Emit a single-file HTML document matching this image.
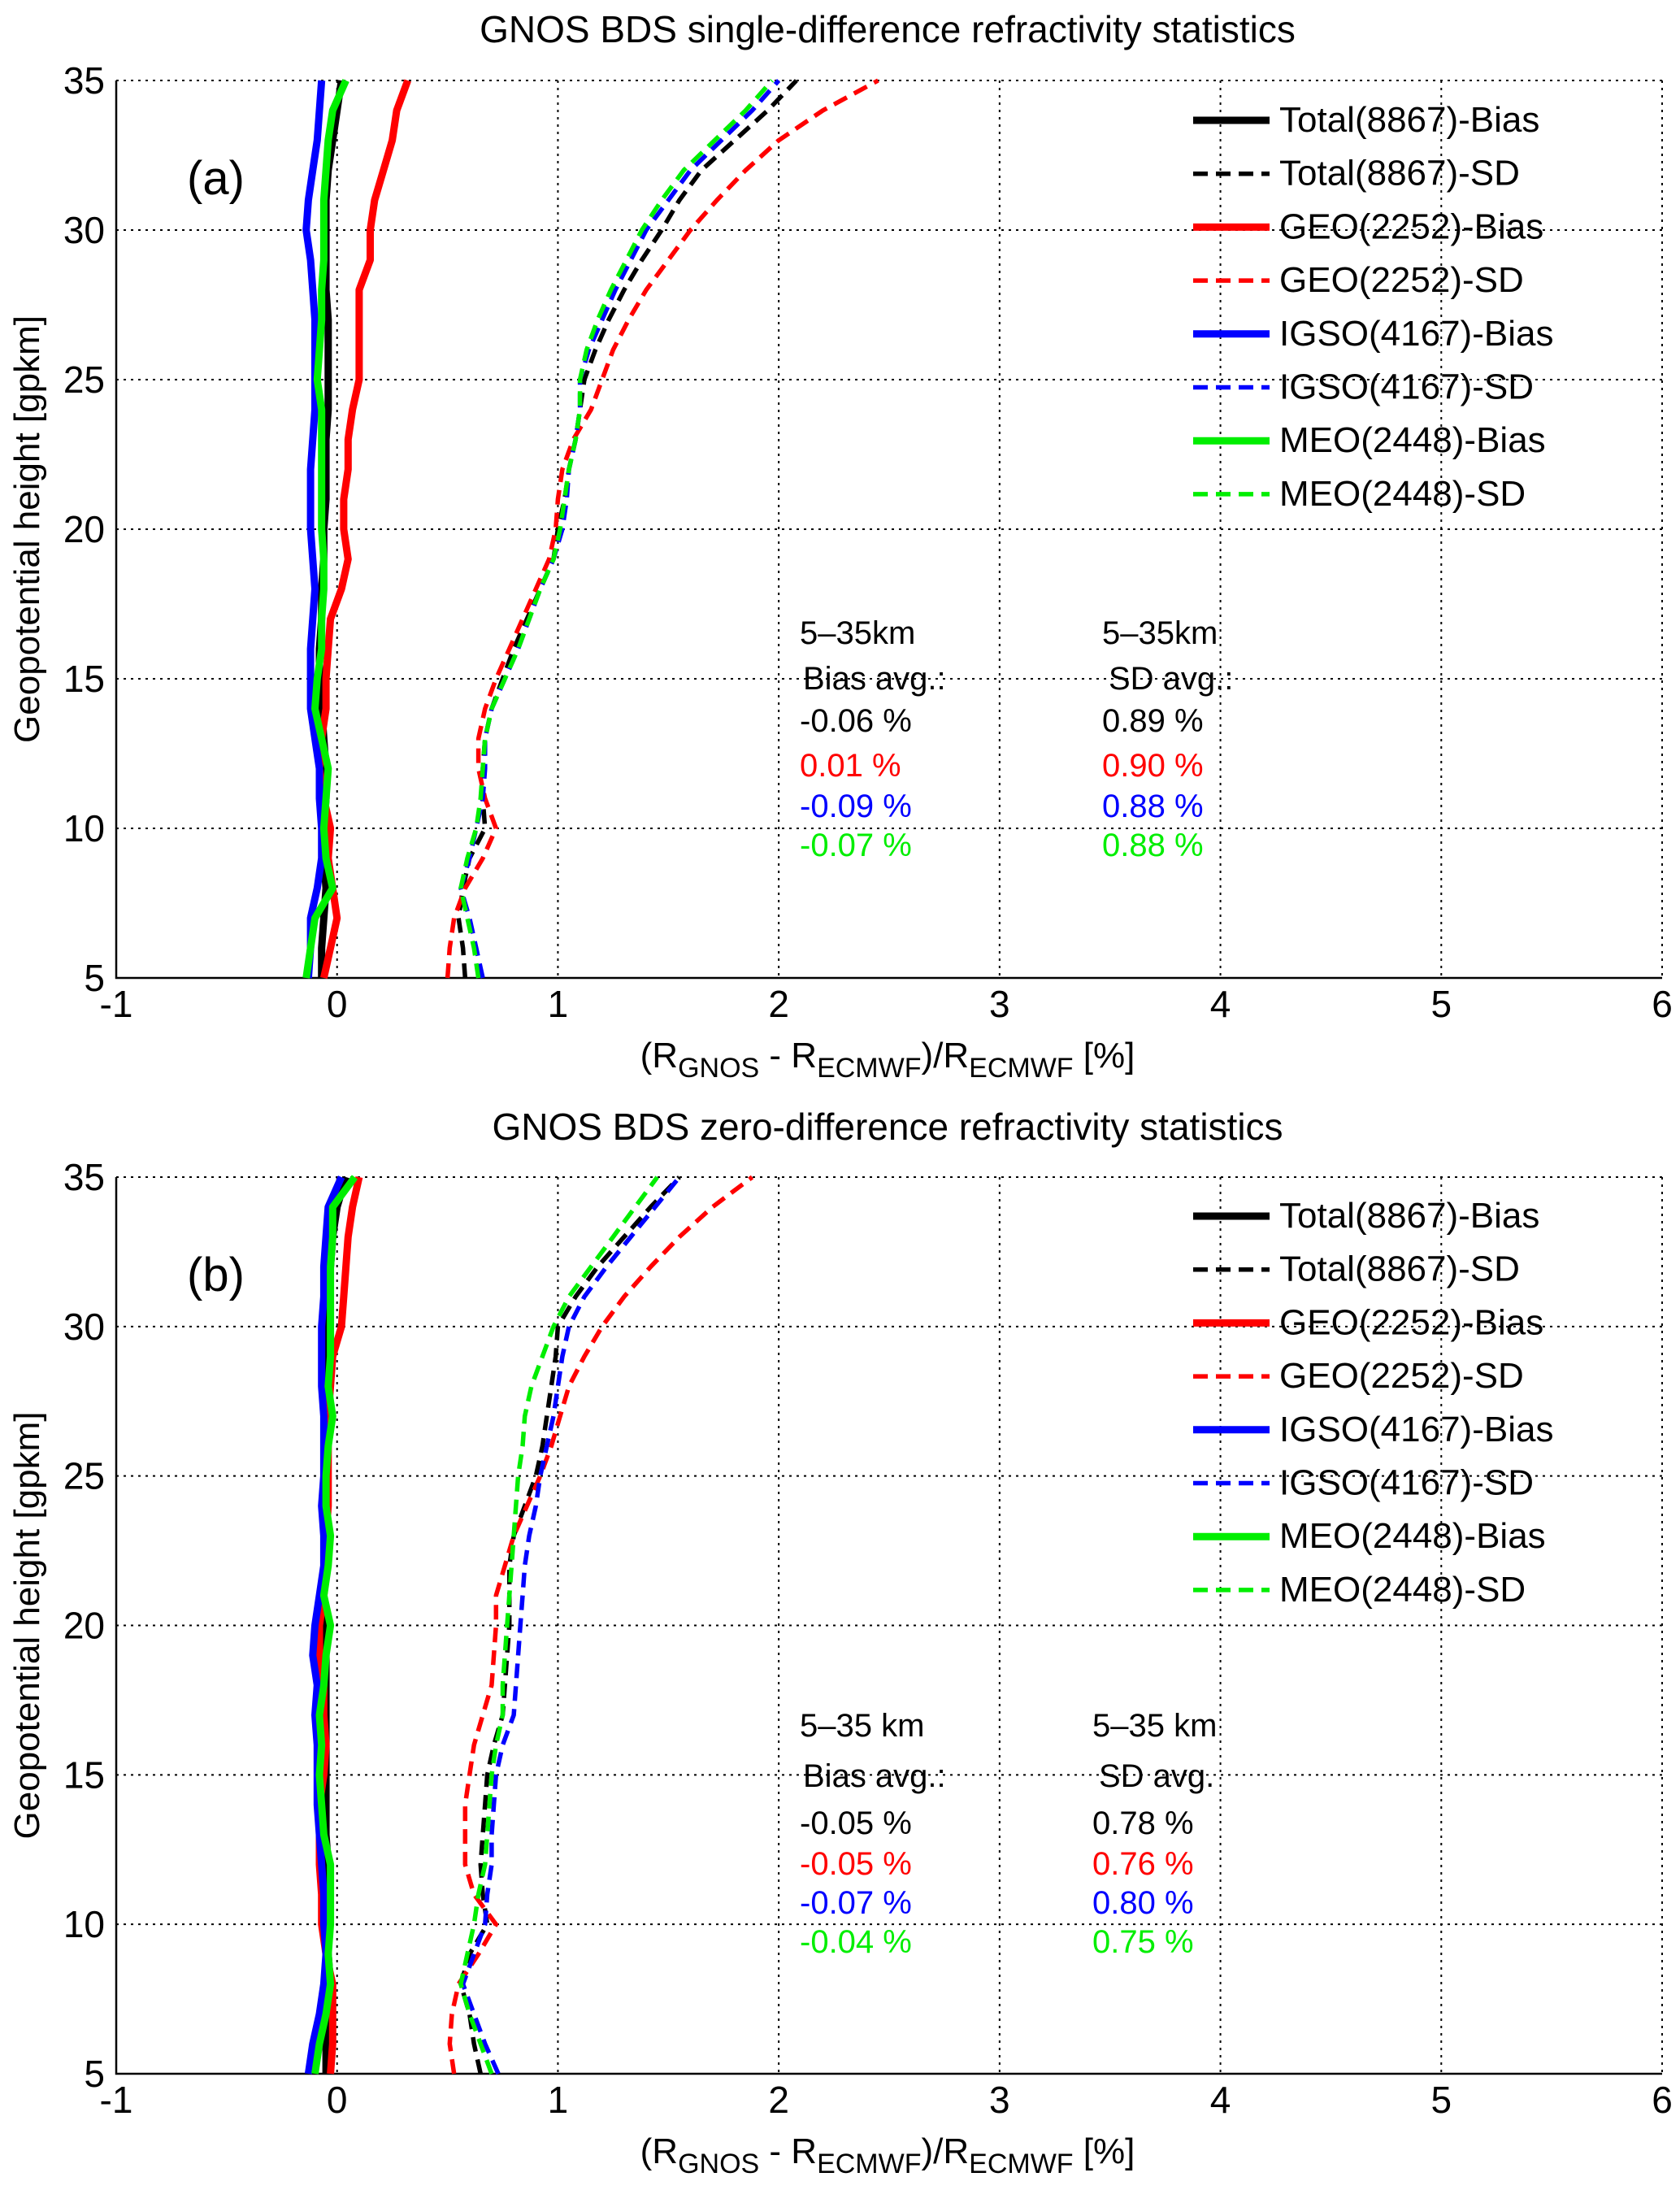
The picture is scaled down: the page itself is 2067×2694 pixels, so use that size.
<!DOCTYPE html>
<html><head><meta charset="utf-8"><style>
body{margin:0;background:#fff;}
svg{display:block;font-family:"Liberation Sans",Arial,sans-serif;}
</style></head><body>
<svg id="chart" width="2067" height="2694" viewBox="0 0 2067 2694" xmlns="http://www.w3.org/2000/svg"></svg>
<script>
const heights=[5,6,7,8,9,10,11,12,13,14,15,16,17,18,19,20,21,22,23,24,25,26,27,28,29,30,31,32,33,34,35];
const xTicks=[-1,0,1,2,3,4,5,6];
const yTicks=[5,10,15,20,25,30,35];
const seriesNames=["Total(8867)-Bias","Total(8867)-SD","GEO(2252)-Bias","GEO(2252)-SD","IGSO(4167)-Bias","IGSO(4167)-SD","MEO(2448)-Bias","MEO(2448)-SD"];
// Panel (a)
const aTotalBias=[-0.07,-0.07,-0.06,-0.05,-0.06,-0.06,-0.05,-0.05,-0.06,-0.07,-0.08,-0.08,-0.07,-0.07,-0.06,-0.06,-0.05,-0.05,-0.05,-0.04,-0.04,-0.04,-0.04,-0.05,-0.05,-0.05,-0.05,-0.04,-0.02,0.00,0.02];
const aTotalSD=[0.58,0.57,0.55,0.57,0.60,0.67,0.66,0.66,0.67,0.70,0.75,0.80,0.86,0.92,0.98,1.00,1.03,1.05,1.08,1.10,1.12,1.17,1.23,1.30,1.38,1.47,1.55,1.65,1.80,1.95,2.08];
const aGeoBias=[-0.06,-0.03,0.00,-0.02,-0.04,-0.03,-0.06,-0.08,-0.07,-0.05,-0.05,-0.04,-0.03,0.02,0.05,0.03,0.03,0.05,0.05,0.07,0.10,0.10,0.10,0.10,0.15,0.15,0.17,0.21,0.25,0.27,0.32];
const aGeoSD=[0.50,0.51,0.53,0.58,0.66,0.72,0.67,0.64,0.64,0.67,0.72,0.78,0.84,0.90,0.96,0.99,1.00,1.02,1.07,1.15,1.20,1.25,1.32,1.40,1.50,1.60,1.72,1.85,2.00,2.20,2.45];
const aIgsoBias=[-0.13,-0.12,-0.12,-0.09,-0.07,-0.07,-0.08,-0.08,-0.10,-0.12,-0.12,-0.12,-0.11,-0.10,-0.11,-0.12,-0.12,-0.12,-0.11,-0.10,-0.10,-0.10,-0.10,-0.11,-0.12,-0.14,-0.13,-0.11,-0.09,-0.08,-0.07];
const aIgsoSD=[0.66,0.63,0.60,0.56,0.60,0.63,0.66,0.67,0.67,0.70,0.76,0.82,0.87,0.92,0.98,1.02,1.04,1.05,1.08,1.10,1.10,1.14,1.20,1.26,1.33,1.40,1.50,1.60,1.74,1.88,2.00];
const aMeoBias=[-0.14,-0.12,-0.10,-0.02,-0.05,-0.06,-0.05,-0.04,-0.07,-0.10,-0.09,-0.07,-0.07,-0.06,-0.06,-0.07,-0.07,-0.07,-0.07,-0.07,-0.09,-0.08,-0.07,-0.07,-0.06,-0.06,-0.06,-0.05,-0.04,-0.02,0.04];
const aMeoSD=[0.64,0.62,0.59,0.56,0.59,0.63,0.65,0.66,0.67,0.70,0.76,0.82,0.87,0.92,0.98,1.01,1.03,1.05,1.08,1.10,1.10,1.13,1.18,1.24,1.31,1.38,1.47,1.57,1.71,1.85,1.97];
// Panel (b)
const bTotalBias=[-0.05,-0.05,-0.04,-0.03,-0.04,-0.05,-0.05,-0.04,-0.05,-0.05,-0.05,-0.05,-0.05,-0.05,-0.05,-0.06,-0.06,-0.05,-0.05,-0.05,-0.05,-0.05,-0.05,-0.05,-0.04,-0.04,-0.04,-0.03,-0.02,0.00,0.04];
const bTotalSD=[0.65,0.62,0.60,0.56,0.60,0.68,0.66,0.65,0.66,0.67,0.68,0.71,0.75,0.76,0.77,0.78,0.78,0.78,0.80,0.85,0.90,0.93,0.95,0.97,0.99,1.00,1.08,1.18,1.30,1.42,1.55];
const bGeoBias=[-0.03,-0.02,-0.02,-0.02,-0.05,-0.07,-0.07,-0.08,-0.08,-0.08,-0.06,-0.05,-0.06,-0.06,-0.08,-0.08,-0.06,-0.05,-0.05,-0.04,-0.04,-0.04,-0.04,-0.03,-0.02,0.02,0.03,0.04,0.05,0.07,0.10];
const bGeoSD=[0.53,0.51,0.52,0.55,0.64,0.72,0.62,0.58,0.58,0.58,0.60,0.62,0.66,0.70,0.71,0.72,0.72,0.76,0.80,0.86,0.92,0.97,1.01,1.05,1.12,1.20,1.30,1.42,1.55,1.70,1.88];
const bIgsoBias=[-0.13,-0.11,-0.08,-0.06,-0.05,-0.06,-0.06,-0.07,-0.08,-0.09,-0.09,-0.09,-0.10,-0.09,-0.11,-0.10,-0.08,-0.06,-0.06,-0.07,-0.06,-0.06,-0.06,-0.07,-0.07,-0.07,-0.06,-0.06,-0.05,-0.04,0.02];
const bIgsoSD=[0.73,0.67,0.62,0.57,0.62,0.67,0.68,0.70,0.70,0.71,0.72,0.75,0.80,0.81,0.82,0.83,0.84,0.85,0.87,0.90,0.92,0.95,0.98,1.00,1.02,1.05,1.12,1.22,1.33,1.44,1.55];
const bMeoBias=[-0.10,-0.08,-0.05,-0.03,-0.04,-0.03,-0.03,-0.03,-0.06,-0.07,-0.08,-0.07,-0.08,-0.06,-0.05,-0.03,-0.06,-0.04,-0.03,-0.05,-0.05,-0.04,-0.02,-0.04,-0.03,-0.03,-0.03,-0.03,-0.02,-0.02,0.08];
const bMeoSD=[0.70,0.65,0.60,0.56,0.59,0.62,0.64,0.67,0.68,0.69,0.70,0.72,0.75,0.75,0.76,0.77,0.78,0.79,0.80,0.81,0.82,0.84,0.85,0.88,0.93,0.98,1.05,1.15,1.25,1.35,1.45];
const aStatsBias=["-0.06 %","0.01 %","-0.09 %","-0.07 %"];
const aStatsSD=["0.89 %","0.90 %","0.88 %","0.88 %"];
const bStatsBias=["-0.05 %","-0.05 %","-0.07 %","-0.04 %"];
const bStatsSD=["0.78 %","0.76 %","0.80 %","0.75 %"];

const NS="http://www.w3.org/2000/svg";
const svg=document.getElementById('chart');
const colors=["#000","#000","#ff0000","#ff0000","#0000ff","#0000ff","#00ee00","#00ee00"];
function mk(tag,attrs,parent,text){const e=document.createElementNS(NS,tag);for(const k in attrs)e.setAttribute(k,attrs[k]);if(text!==undefined)e.textContent=text;(parent||svg).appendChild(e);return e;}

function panel(cfg){
  const g=mk('g',{});
  
  
  const L=143,R=2045,T=cfg.top,B=cfg.bottom;
  const sx=v=>L+(v-(-1))/7*(R-L);
  const sy=v=>B-(v-5)/30*(B-T);
  xTicks.forEach(t=>{const l=mk('line',{x1:sx(t),x2:sx(t),y1:T,y2:B,stroke:'#000','stroke-width':2,'stroke-dasharray':'3,6'},g);
    });
  yTicks.forEach(t=>{const l=mk('line',{x1:L,x2:R,y1:sy(t),y2:sy(t),stroke:'#000','stroke-width':2,'stroke-dasharray':'3,6'},g);
    });
  const ax=mk('path',{d:`M${L},${T}V${B}H${R}`,fill:'none',stroke:'#000','stroke-width':2.5},g);
  
  xTicks.forEach(t=>{const e=mk('text',{x:sx(t),y:B+48,'font-size':46,'text-anchor':'middle'},g,String(t));
    });
  yTicks.forEach(t=>{const e=mk('text',{x:L-14,y:sy(t)+16,'font-size':46,'text-anchor':'end'},g,String(t));
    });
  cfg.series.forEach((arr,i)=>{
    const d=arr.map((v,j)=>(j?'L':'M')+sx(v).toFixed(1)+','+sy(heights[j]).toFixed(1)).join('');
    const dashed=i%2===1;
    const p=mk('path',{d:d,fill:'none',stroke:colors[i],'stroke-width':dashed?5.5:9,'stroke-dasharray':dashed?'18,10':'none','stroke-linejoin':'round'},g);
    
    
  });
  const ti=mk('text',{x:1092,y:cfg.titleY,'font-size':46,'text-anchor':'middle'},g,cfg.title);
  
  const lab=mk('text',{x:230,y:T+140,'font-size':58},g,cfg.label);
  
  const xl=mk('text',{x:1092,y:B+110,'font-size':44,'text-anchor':'middle'},g);
  
  xl.innerHTML='(R<tspan font-size="34" dy="12">GNOS</tspan><tspan dy="-12"> - R</tspan><tspan font-size="34" dy="12">ECMWF</tspan><tspan dy="-12">)/R</tspan><tspan font-size="34" dy="12">ECMWF</tspan><tspan dy="-12"> [%]</tspan>';
  const yl=mk('text',{x:0,y:0,'font-size':44,'text-anchor':'middle',transform:`translate(48,${(T+B)/2}) rotate(-90)`},g,'Geopotential height [gpkm]');
  
  seriesNames.forEach((n,i)=>{
    const y=cfg.legTop+i*65.7;
    const ln=mk('line',{x1:1468,x2:1562,y1:y-14,y2:y-14,stroke:colors[i],'stroke-width':i%2?5.5:9,'stroke-dasharray':i%2?'18,10':'none'},g);
    
    const t=mk('text',{x:1574,y:y,'font-size':44},g,n);
    
  });
  const sc=["#000","#ff0000","#0000ff","#00ee00"];
  const h1=mk('text',{x:cfg.sx1,y:cfg.sRows[0],'font-size':40},g,cfg.km);
  const h2=mk('text',{x:cfg.sx1+4,y:cfg.sRows[1],'font-size':40},g,'Bias avg.:');
  const h3=mk('text',{x:cfg.sx2,y:cfg.sRows[0],'font-size':40},g,cfg.km);
  const h4=mk('text',{x:cfg.sx2+8,y:cfg.sRows[1],'font-size':40},g,cfg.sdLabel);
  for(let k=0;k<4;k++){
    const a=mk('text',{x:cfg.sx1,y:cfg.sRows[k+2],'font-size':40,fill:sc[k]},g,cfg.bias[k]);
    const b=mk('text',{x:cfg.sx2,y:cfg.sRows[k+2],'font-size':40,fill:sc[k]},g,cfg.sd[k]);
  }
}
panel({name:'panel-a',top:99,bottom:1203,titleY:52,title:'GNOS BDS single-difference  refractivity statistics',label:'(a)',
  series:[aTotalBias,aTotalSD,aGeoBias,aGeoSD,aIgsoBias,aIgsoSD,aMeoBias,aMeoSD],legTop:162,
  sx1:984,sx2:1356,sRows:[792,848,900,955,1005,1053],km:'5\u201335km',sdLabel:'SD avg.:',bias:aStatsBias,sd:aStatsSD});
panel({name:'panel-b',top:1448,bottom:2551,titleY:1402,title:'GNOS BDS zero-difference  refractivity statistics',label:'(b)',
  series:[bTotalBias,bTotalSD,bGeoBias,bGeoSD,bIgsoBias,bIgsoSD,bMeoBias,bMeoSD],legTop:1510,
  sx1:984,sx2:1344,sRows:[2136,2198,2256,2306,2354,2402],km:'5\u201335 km',sdLabel:'SD avg.',bias:bStatsBias,sd:bStatsSD});
</script>
</body></html>
